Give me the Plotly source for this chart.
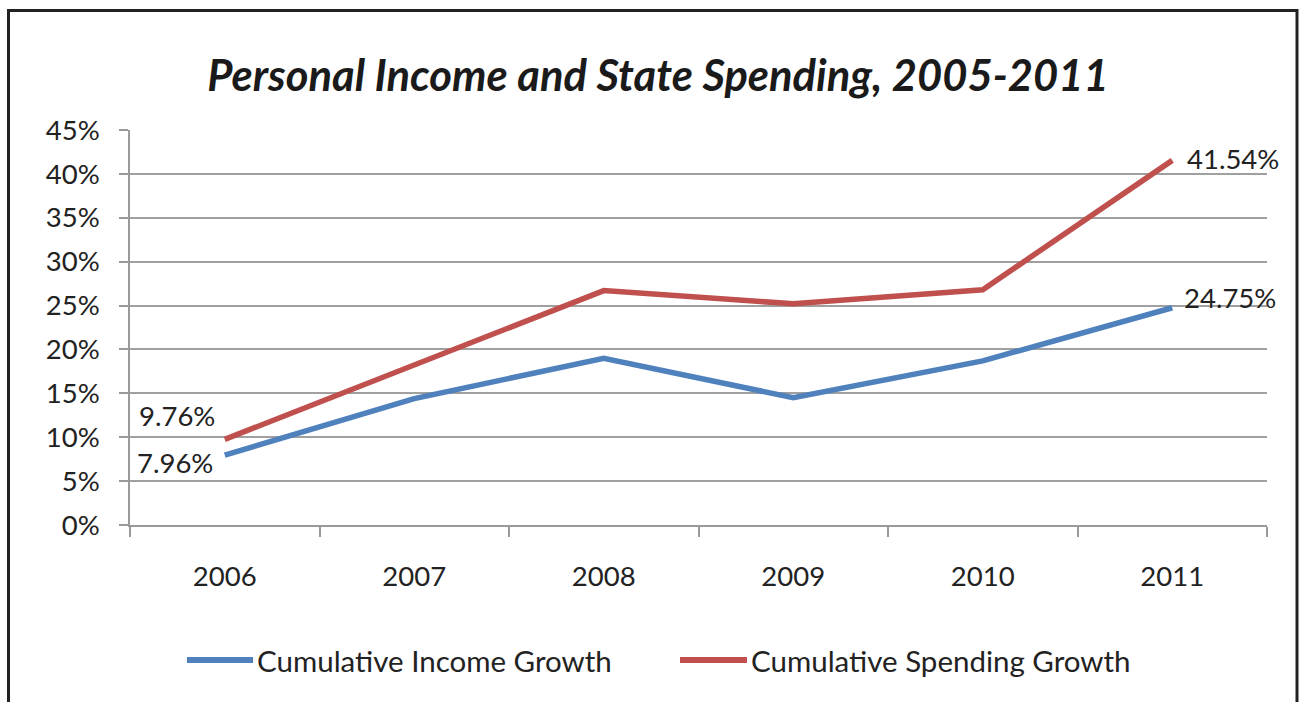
import plotly.graph_objects as go

years = ["2006", "2007", "2008", "2009", "2010", "2011"]
income_growth = [7.96, 14.4, 19.0, 14.5, 18.7, 24.75]
spending_growth = [9.76, 18.3, 26.7, 25.2, 26.8, 41.54]
series_names = ["Cumulative Income Growth", "Cumulative Spending Growth"]
series_colors = ["#4F81BD", "#C0504D"]
title_text = "Personal Income and State Spending, 2005-2011"
y_ticks = [0, 5, 10, 15, 20, 25, 30, 35, 40, 45]
y_tick_labels = [f"{v}%" for v in y_ticks]

FONT = "Lato"
W, H = 1300, 702
L, R, T, B = 130, 1267, 130, 525  # plot area pixel bounds


def px_x(p):
    return (p - L) / (R - L)


def px_y(p):
    return (B - p) / (B - T)


fig = go.Figure()
for vals, name, col in zip([income_growth, spending_growth], series_names, series_colors):
    fig.add_trace(go.Scatter(x=years, y=vals, mode="lines", name=name,
                             line=dict(color=col, width=5.5), showlegend=False))

# data labels for first and last points (x given as category index)
label_font = dict(family=FONT, size=27.5, color="#222222")
first, last = 0, len(years) - 1
ann = []
ann.append(dict(x=first, y=spending_growth[first], text=f"{spending_growth[first]:.2f}%",
                xref="x", yref="y", showarrow=False, xanchor="right", yanchor="middle",
                xshift=-8, yshift=24, font=label_font))
ann.append(dict(x=first, y=income_growth[first], text=f"{income_growth[first]:.2f}%",
                xref="x", yref="y", showarrow=False, xanchor="right", yanchor="middle",
                xshift=-10, yshift=-7, font=label_font))
ann.append(dict(x=last, y=spending_growth[last], text=f"{spending_growth[last]:.2f}%",
                xref="x", yref="y", showarrow=False, xanchor="left", yanchor="middle",
                xshift=13, yshift=2, font=label_font))
ann.append(dict(x=last, y=income_growth[last], text=f"{income_growth[last]:.2f}%",
                xref="x", yref="y", showarrow=False, xanchor="left", yanchor="middle",
                xshift=10, yshift=10, font=label_font))

# manual legend
shapes = []
legend_y = px_y(660)
legend_items = [(187, 253), (680, 747)]
for (x0, x1), name, col in zip(legend_items, series_names, series_colors):
    shapes.append(dict(type="line", xref="paper", yref="paper",
                       x0=px_x(x0), x1=px_x(x1), y0=legend_y, y1=legend_y,
                       line=dict(color=col, width=6)))
    ann.append(dict(x=px_x(x1 + 2), y=legend_y, xref="paper", yref="paper",
                    text=name, showarrow=False, xanchor="left", yanchor="middle",
                    font=dict(family=FONT, size=29.5, color="#222222")))

# outer frame
shapes.append(dict(type="rect", xref="paper", yref="paper",
                   x0=px_x(8.5), x1=px_x(1297), y0=px_y(10.5), y1=px_y(720),
                   line=dict(color="#222222", width=3), fillcolor="rgba(0,0,0,0)",
                   layer="above"))

fig.update_layout(
    width=W, height=H,
    margin=dict(l=L, r=W - R, t=T, b=H - B),
    paper_bgcolor="white", plot_bgcolor="white",
    title=dict(text=f"<b><i>{title_text}</i></b>", x=658 / W, y=1 - 76 / H,
               xanchor="center", yanchor="middle",
               font=dict(family=FONT, size=43.5, color="#1a1a1a")),
    xaxis=dict(type="category", range=[-0.5, 5.5], showgrid=False,
               showline=True, linecolor="#9a9a9a", linewidth=1.5,
               ticks="outside", tickson="boundaries", ticklen=10, tickcolor="#9a9a9a",
               tickwidth=1.5, ticklabelstandoff=26,
               tickfont=dict(family=FONT, size=27.5, color="#222222")),
    yaxis=dict(range=[0, 45], tickmode="array", tickvals=y_ticks, ticktext=y_tick_labels,
               showgrid=True, gridcolor="#a0a0a0", gridwidth=1.5,
               showline=True, linecolor="#9a9a9a", linewidth=1.5,
               ticks="outside", ticklen=9, tickcolor="#9a9a9a", tickwidth=1.5,
               ticklabelstandoff=14, zeroline=False,
               tickfont=dict(family=FONT, size=27.5, color="#222222")),
    annotations=ann, shapes=shapes,
)

fig.write_html("out.html")
